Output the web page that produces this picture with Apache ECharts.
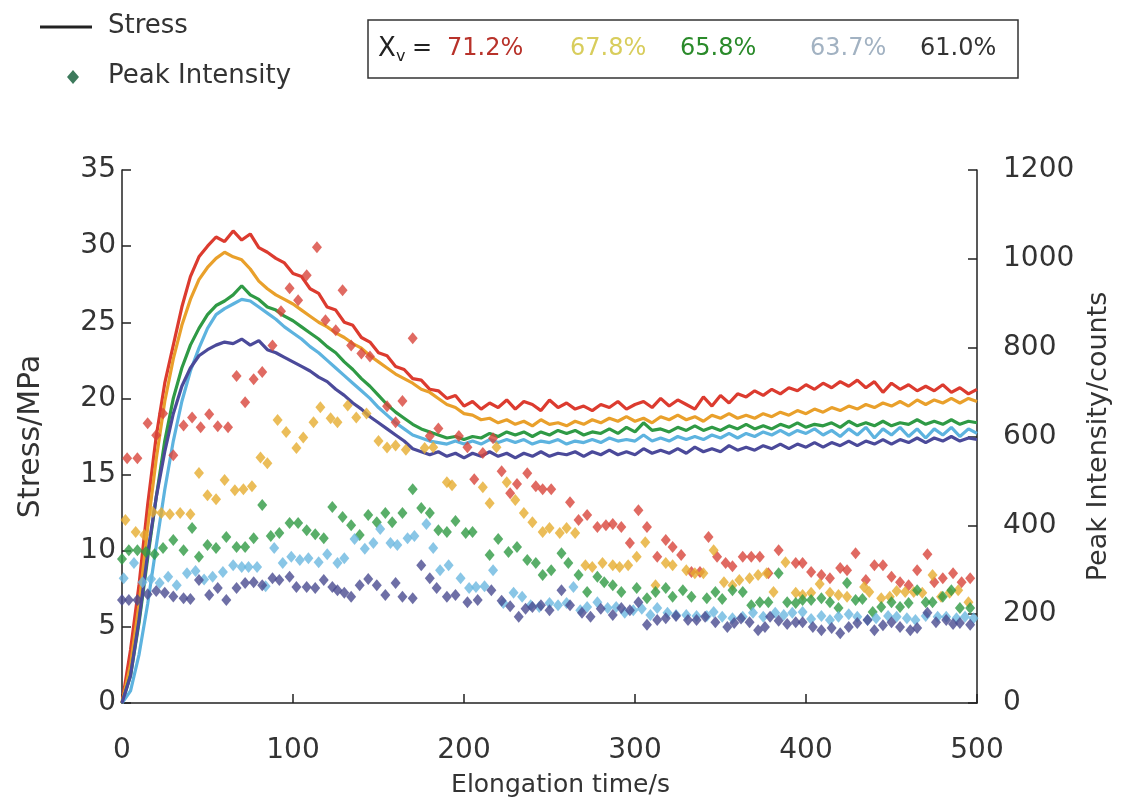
<!DOCTYPE html>
<html>
<head>
<meta charset="utf-8">
<script src="https://cdn.jsdelivr.net/npm/echarts@6/dist/echarts.min.js"></script>
<style>
  html, body { margin: 0; padding: 0; background: #fff; }
  #container { width: 1127px; height: 803px; }
</style>
</head>
<body>
<div id="container"></div>
<script>
// 数据：拉伸时间(s)、应力(MPa)、峰强度(counts)
var xvLabels = ['71.2%', '67.8%', '65.8%', '63.7%', '61.0%'];
var lineColors = ['#dc3b2f', '#e9a02b', '#2f9a45', '#5db3df', '#4b4a9a'];
var dotColors = ['#d8453b', '#e6ac2f', '#2f9a43', '#6bb8e0', '#4a4b90'];

var stressTime = [0,5,10,15,20,25,30,35,40,45,50,55,60,65,70,75,80,85,90,95,
  100,105,110,115,120,125,130,135,140,145,150,155,160,165,170,175,180,185,190,195,
  200,205,210,215,220,225,230,235,240,245,250,255,260,265,270,275,280,285,290,295,
  300,305,310,315,320,325,330,335,340,345,350,355,360,365,370,375,380,385,390,395,
  400,405,410,415,420,425,430,435,440,445,450,455,460,465,470,475,480,485,490,495,500];

var stress712 = [0,3.5,7.8,13,17.5,21,23.5,26,28,29.3,
  30,30.6,30.3,31,30.4,30.8,29.9,29.6,29.2,28.9,
  28.2,28.0,27.2,26.9,26.0,25.8,25.0,24.8,24.0,23.7,
  23.0,22.8,22.1,21.9,21.3,21.2,20.6,20.5,20.0,20.2,
  19.5,19.8,19.3,19.7,19.4,19.9,19.3,19.8,19.6,19.2,
  19.9,19.4,19.7,19.3,19.5,19.2,19.6,19.4,19.8,19.3,
  19.6,19.8,19.4,20.0,19.5,19.9,19.6,19.3,20.1,19.5,
  20.2,19.7,20.3,20.1,20.5,20.2,20.6,20.3,20.7,20.5,
  20.9,20.6,21.0,20.7,21.1,20.8,21.2,20.7,21.1,20.4,
  21.0,20.6,20.9,20.5,20.8,20.5,20.9,20.4,20.7,20.3,20.6];
var stress678 = [0,2.5,6.5,11.5,16,19.8,22.6,24.8,26.5,27.8,
  28.6,29.2,29.6,29.3,29.1,28.5,27.7,27.2,26.8,26.5,
  26.2,25.8,25.4,25.0,24.7,24.3,24.0,23.6,23.3,22.8,
  22.4,22.0,21.6,21.3,21.0,20.6,20.4,20.0,19.6,19.4,
  19.0,18.9,18.6,18.7,18.4,18.6,18.3,18.5,18.2,18.6,
  18.3,18.4,18.2,18.5,18.3,18.6,18.4,18.7,18.5,18.8,
  18.5,18.7,18.4,18.8,18.6,18.9,18.6,18.8,18.5,18.9,
  18.7,19.0,18.7,18.9,18.7,19.0,18.8,19.1,18.9,19.2,
  19.0,19.3,19.1,19.4,19.2,19.5,19.3,19.6,19.4,19.7,
  19.5,19.8,19.5,19.9,19.6,19.9,19.7,20.0,19.7,20.0,19.8];
var stress658 = [0,1.8,5.3,9.5,13.5,17.2,20.0,22.0,23.5,24.6,
  25.5,26.1,26.4,26.8,27.4,26.8,26.5,26.0,25.8,25.4,
  25.1,24.7,24.3,23.9,23.4,23.0,22.4,21.9,21.3,20.8,
  20.2,19.6,19.1,18.7,18.3,18.0,17.8,17.6,17.4,17.5,
  17.3,17.5,17.4,17.7,17.5,17.8,17.6,17.8,17.5,17.8,
  17.6,17.9,17.7,17.9,17.6,17.8,17.7,18.0,17.7,18.1,
  17.8,18.4,17.9,18.0,17.8,18.1,17.9,18.2,17.9,18.1,
  17.9,18.2,18.0,18.3,18.0,18.2,18.0,18.3,18.1,18.4,
  18.1,18.3,18.2,18.4,18.1,18.5,18.2,18.4,18.2,18.5,
  18.2,18.4,18.3,18.6,18.3,18.5,18.3,18.6,18.3,18.5,18.4];
var stress637 = [0,0.8,3.2,6.5,10.3,14.0,17.2,19.8,21.8,23.3,
  24.6,25.5,25.9,26.2,26.5,26.4,26.0,25.6,25.2,24.7,
  24.3,23.9,23.4,23.0,22.5,22.0,21.5,21.0,20.5,20.0,
  19.4,18.9,18.4,18.0,17.6,17.4,17.2,17.1,17.0,17.2,
  17.0,17.2,17.0,17.3,17.1,17.3,17.1,17.3,17.0,17.2,
  17.1,17.3,17.0,17.2,17.1,17.3,17.1,17.4,17.2,17.3,
  17.2,17.6,17.2,17.4,17.2,17.5,17.3,17.5,17.3,17.6,
  17.4,17.7,17.4,17.7,17.5,17.8,17.6,17.9,17.6,17.9,
  17.7,18.0,17.6,17.9,17.5,18.0,17.6,18.1,17.4,18.0,
  17.6,18.1,17.5,18.0,17.4,18.0,17.6,18.1,17.5,18.0,17.7];
var stress610 = [0,1.8,5.5,9.8,13.5,16.5,19.0,20.8,22.0,22.8,
  23.2,23.5,23.7,23.6,23.9,23.5,23.8,23.2,23.0,22.7,
  22.4,22.1,21.8,21.4,21.1,20.6,20.2,19.7,19.3,18.8,
  18.4,18.0,17.6,17.2,16.7,16.5,16.3,16.5,16.2,16.4,
  16.1,16.4,16.2,16.5,16.2,16.4,16.1,16.4,16.2,16.5,
  16.2,16.4,16.3,16.5,16.2,16.5,16.3,16.6,16.3,16.5,
  16.3,16.7,16.4,16.6,16.4,16.7,16.4,16.8,16.5,16.7,
  16.5,16.9,16.6,16.8,16.6,16.9,16.7,17.0,16.7,17.0,
  16.8,17.1,16.8,17.1,16.9,17.2,16.9,17.2,17.0,17.3,
  17.0,17.3,17.1,17.4,17.1,17.4,17.2,17.5,17.2,17.4,17.3];

// 峰强度散点：时间 / 强度
var peakT712 = [3,9,15,20,24,30,36,41,46,51,56,62,67,72,77,82,88,93,98,103,
  108,114,119,125,129,134,140,145,155,160,164,170,180,185,197,202,206,211,217,222,
  227,231,237,242,246,251,262,267,272,278,283,287,292,297,302,307,313,318,322,327,
  333,338,343,348,353,357,363,368,373,378,384,394,398,403,409,414,420,424,429,435,
  440,445,450,455,460,465,471,475,480,486,491,496];
var peakI712 = [551,551,630,603,652,558,625,643,621,650,623,621,736,677,729,745,805,882,934,907,
  963,1026,862,839,929,805,787,780,668,632,680,821,601,618,601,576,504,563,596,522,
  472,493,517,488,481,481,452,412,423,396,400,403,396,360,434,396,329,367,351,333,
  295,295,374,329,315,308,329,329,329,292,344,315,315,295,288,281,304,299,337,277,
  310,310,284,272,265,299,335,272,281,292,272,281];
var peakT678 = [2,8,13,18,23,28,34,40,45,50,55,60,66,71,76,81,85,91,96,102,
  106,112,116,122,126,132,137,143,150,155,160,166,177,182,190,193,211,215,219,225,
  230,235,240,246,250,256,260,265,271,275,281,287,291,296,301,306,312,318,322,330,
  335,340,346,352,357,361,367,372,377,381,388,394,398,403,408,414,419,424,434,437,
  444,449,453,458,463,468,474,479,484,489,495];
var peakI678 = [412,385,378,430,428,425,428,425,518,468,459,502,479,481,488,553,540,637,610,574,
  598,632,666,641,632,670,643,652,590,575,580,570,574,576,497,490,486,450,576,497,
  457,428,407,385,394,383,394,383,310,306,315,310,306,310,329,362,265,315,310,299,
  292,292,344,272,265,277,281,288,292,250,317,248,243,248,268,248,243,239,261,250,
  236,239,252,250,250,248,288,239,248,254,227];
var peakT658 = [0,4,9,14,19,24,30,36,41,45,50,55,61,67,72,77,82,87,92,98,
  103,108,113,118,123,129,134,139,144,149,154,158,164,170,175,180,185,190,195,201,
  205,215,220,226,231,237,242,246,251,257,261,267,272,278,282,287,292,301,307,312,
  318,322,328,333,342,347,351,357,363,368,373,378,384,389,394,398,403,409,414,419,
  424,429,433,439,444,450,455,460,465,470,474,480,485,490,496];
var peakI658 = [324,344,344,340,335,349,367,344,394,329,356,349,374,351,351,371,446,376,383,405,
  405,389,380,371,441,419,400,378,423,407,428,407,428,481,439,428,389,385,410,383,
  385,333,369,340,351,322,315,288,299,337,315,288,250,284,272,265,250,259,236,250,
  259,239,254,239,236,250,234,254,250,220,227,227,292,227,225,232,232,236,227,214,
  270,232,234,205,216,227,216,225,254,227,227,239,254,214,214];
var peakT637 = [1,7,12,17,22,27,32,38,43,48,53,59,65,70,74,79,84,89,94,99,
  104,109,115,120,126,130,136,142,147,151,157,161,167,171,178,182,186,191,198,203,
  207,212,217,223,229,234,239,244,250,255,260,264,268,272,278,284,289,294,299,304,
  309,313,319,324,330,336,342,346,351,357,363,369,375,382,387,392,398,403,409,414,
  419,425,430,436,441,448,453,459,464,470,477,482,488,493,498];
var peakI637 = [281,315,272,279,270,284,265,292,297,278,284,295,310,306,306,306,263,349,315,329,
  322,326,317,335,315,326,369,347,360,392,360,356,371,376,403,349,299,310,281,259,
  261,263,299,225,248,239,220,216,225,220,225,261,209,216,227,214,216,203,209,212,
  198,214,203,198,198,196,196,205,194,191,194,203,194,203,198,203,205,189,196,187,
  194,200,194,187,191,196,194,191,187,196,194,194,191,194,191];
var peakT610 = [0,4,9,15,20,25,30,36,40,45,51,56,61,67,72,77,82,88,92,98,
  102,108,113,118,123,126,130,134,139,144,149,154,160,164,170,175,180,184,190,195,
  202,208,216,222,227,232,236,240,245,250,257,262,269,274,280,287,292,297,302,307,
  313,318,324,331,336,341,347,354,358,362,367,372,376,379,384,389,394,398,404,409,
  415,420,425,430,436,440,445,450,455,461,465,471,476,482,486,490,496];
var peakI610 = [232,232,232,245,252,248,240,236,234,277,243,259,232,259,270,272,265,281,277,284,
  261,261,259,277,261,254,248,239,265,279,265,243,270,239,236,310,281,259,239,243,
  227,232,254,230,218,194,212,216,220,209,254,220,203,194,212,198,214,209,227,176,
  187,191,196,187,187,194,182,171,180,190,182,164,171,194,185,178,182,182,171,164,
  169,157,171,180,187,164,175,182,171,164,169,203,182,187,178,180,176];

var stressList = [stress712, stress678, stress658, stress637, stress610];
var peakTList = [peakT712, peakT678, peakT658, peakT637, peakT610];
var peakIList = [peakI712, peakI678, peakI658, peakI637, peakI610];

var FONT = 'DejaVu Sans';

function pairs(xs, ys) {
    var out = [];
    for (var i = 0; i < xs.length; i++) {
        out.push([xs[i], ys[i]]);
    }
    return out;
}

var dom = document.getElementById('container');
var myChart = echarts.init(dom, null, {renderer: 'canvas'});

var seriesList = [];
for (var k = 0; k < 5; k++) {
    seriesList.push({
        name: 'Stress ' + xvLabels[k],
        type: 'line',
        yAxisIndex: 0,
        data: pairs(stressTime, stressList[k]),
        showSymbol: false,
        symbol: 'none',
        z: 2,
        lineStyle: {color: lineColors[k], width: 3.2}
    });
}
for (var k = 0; k < 5; k++) {
    seriesList.push({
        name: 'Peak ' + xvLabels[k],
        type: 'scatter',
        yAxisIndex: 1,
        data: pairs(peakTList[k], peakIList[k]),
        symbol: 'diamond',
        symbolSize: [10, 12],
        z: 3,
        itemStyle: {color: dotColors[k]}
    });
}

// 左上角图例 + Xv 说明框
var boxTexts = [
    {x: 447, t: xvLabels[0], c: '#b8322a'},
    {x: 570, t: xvLabels[1], c: '#d8cd5c'},
    {x: 680, t: xvLabels[2], c: '#2a8a2a'},
    {x: 810, t: xvLabels[3], c: '#a2b2c2'},
    {x: 920, t: xvLabels[4], c: '#333333'}
];
var graphics = [{
    type: 'line',
    shape: {x1: 40, y1: 27, x2: 92, y2: 27},
    style: {stroke: '#222', lineWidth: 3}
}, {
    type: 'text', x: 108, y: 26,
    style: {text: 'Stress', font: '26px "DejaVu Sans"', fill: '#333', verticalAlign: 'middle'}
}, {
    type: 'polygon',
    shape: {points: [[73, 70], [79, 77], [73, 84], [67, 77]]},
    style: {fill: '#3d7a5c'}
}, {
    type: 'text', x: 108, y: 76,
    style: {text: 'Peak Intensity', font: '26px "DejaVu Sans"', fill: '#333', verticalAlign: 'middle'}
}, {
    type: 'rect',
    shape: {x: 368, y: 20, width: 650, height: 58},
    style: {fill: 'none', stroke: '#333', lineWidth: 1.5}
}, {
    type: 'text', x: 378, y: 49,
    style: {text: 'X', font: '26px "DejaVu Sans"', fill: '#222', verticalAlign: 'middle'}
}, {
    type: 'text', x: 396, y: 57,
    style: {text: 'v', font: '16px "DejaVu Sans"', fill: '#222', verticalAlign: 'middle'}
}, {
    type: 'text', x: 412, y: 49,
    style: {text: '=', font: '24px "DejaVu Sans"', fill: '#222', verticalAlign: 'middle'}
}];
for (var j = 0; j < boxTexts.length; j++) {
    graphics.push({
        type: 'text', x: boxTexts[j].x, y: 49,
        style: {text: boxTexts[j].t, font: '24px "DejaVu Sans"', fill: boxTexts[j].c, verticalAlign: 'middle'}
    });
}

option = {
    animation: false,
    backgroundColor: '#fff',
    grid: {left: 122, right: 150, top: 170, bottom: 100},
    xAxis: {
        type: 'value',
        min: 0, max: 500, interval: 100,
        name: 'Elongation time/s',
        nameLocation: 'middle',
        nameGap: 70,
        nameTextStyle: {fontSize: 25, fontFamily: FONT, color: '#333', padding: [0, 0, 0, 22]},
        axisLine: {show: true, lineStyle: {color: '#222', width: 1.5}},
        axisTick: {show: true, inside: true, length: 9, lineStyle: {color: '#222', width: 1.5}},
        axisLabel: {fontSize: 28, fontFamily: FONT, color: '#333', margin: 34},
        splitLine: {show: false}
    },
    yAxis: [{
        type: 'value',
        position: 'left',
        min: 0, max: 35, interval: 5,
        name: 'Stress/MPa',
        nameLocation: 'middle',
        nameRotate: 90,
        nameGap: 76,
        nameTextStyle: {fontSize: 30, fontFamily: FONT, color: '#333'},
        axisLine: {show: true, lineStyle: {color: '#222', width: 1.5}},
        axisTick: {show: true, inside: true, length: 9, lineStyle: {color: '#222', width: 1.5}},
        axisLabel: {fontSize: 28, fontFamily: FONT, color: '#333', margin: 6},
        splitLine: {show: false}
    }, {
        type: 'value',
        position: 'right',
        min: 0, max: 1200, interval: 200,
        name: 'Peak Intensity/counts',
        nameLocation: 'middle',
        nameRotate: 90,
        nameGap: 108,
        nameTextStyle: {fontSize: 27, fontFamily: FONT, color: '#333'},
        axisLine: {show: true, lineStyle: {color: '#222', width: 1.5}},
        axisTick: {show: true, inside: true, length: 9, lineStyle: {color: '#222', width: 1.5}},
        axisLabel: {fontSize: 28, fontFamily: FONT, color: '#333', margin: 26,
            formatter: function (v) { return String(v); }},
        splitLine: {show: false}
    }],
    graphic: graphics,
    series: seriesList
};

if (option && typeof option === 'object') {
    myChart.setOption(option, true);
}
</script>
</body>
</html>
